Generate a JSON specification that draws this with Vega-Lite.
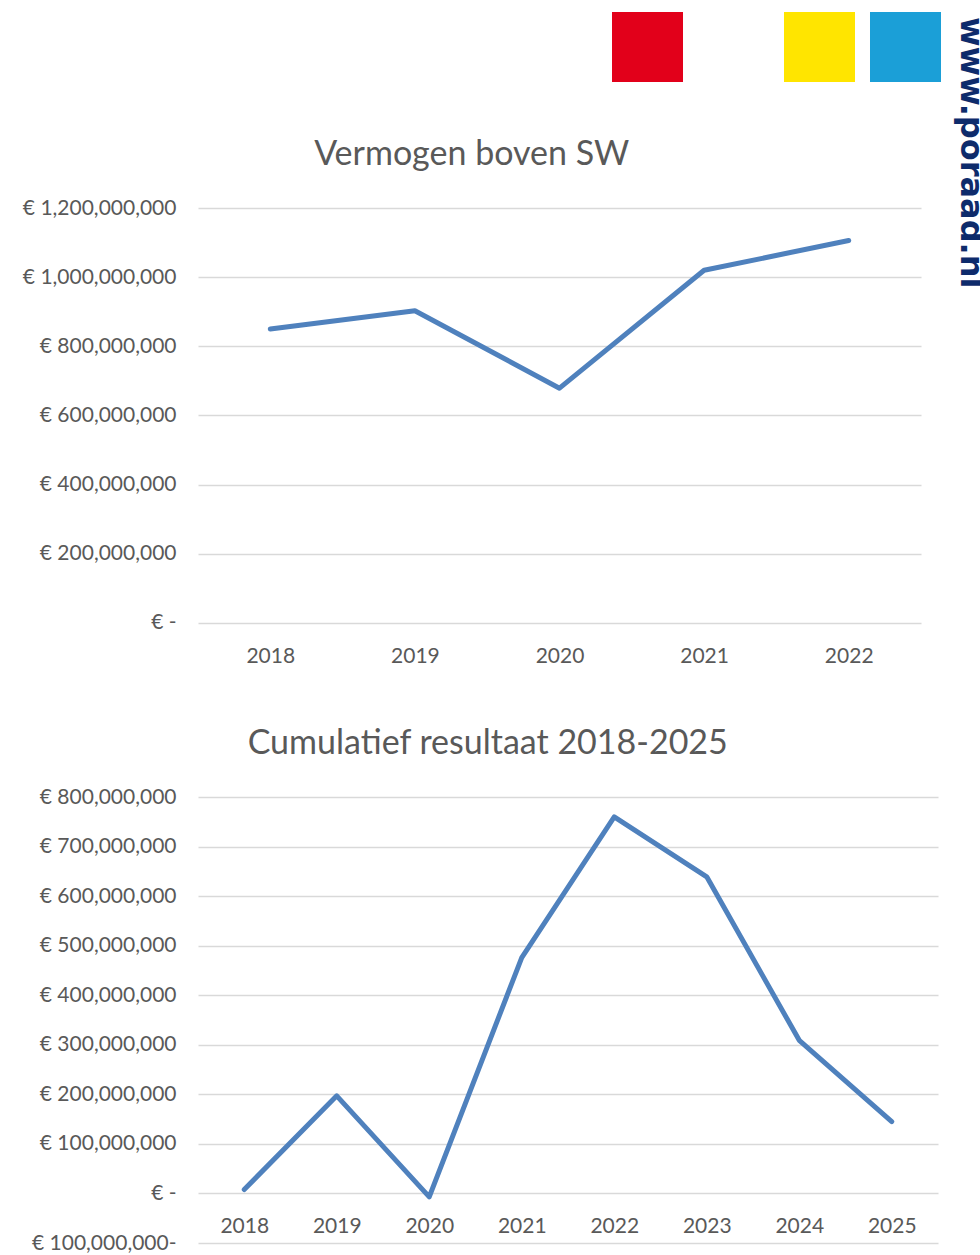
{
  "$schema": "https://vega.github.io/schema/vega-lite/v6.json",
  "background": "white",
  "padding": {"left": 22, "right": -8, "top": 12, "bottom": 0},
  "bounds": "flush",
  "spacing": 126,
  "config": {
    "view": {"stroke": null},
    "font": "Lato",
    "axis": {
      "labelFont": "Lato",
      "labelFontSize": 21,
      "labelColor": "#595959",
      "domain": false,
      "ticks": false,
      "tickSize": 0,
      "gridColor": "#D9D9D9",
      "gridWidth": 1.5,
      "title": null
    },
    "title": {
      "font": "Lato",
      "fontSize": 34,
      "fontWeight": "normal",
      "color": "#595959",
      "anchor": "middle",
      "frame": "bounds",
      "baseline": "alphabetic"
    }
  },
  "vconcat": [
    {
      "width": 743,
      "height": 70,
      "layer": [
        {
          "data": {"values": [{"kleur": "rood"}, {"kleur": "wit"}, {"kleur": "geel"}, {"kleur": "blauw"}]},
          "mark": {"type": "rect"},
          "encoding": {
            "x": {
              "field": "kleur",
              "type": "nominal",
              "sort": null,
              "scale": {"domain": ["leeg1", "leeg2", "leeg3", "rood", "wit", "geel", "blauw"], "paddingInner": 0.1744, "paddingOuter": 0.907, "align": 1},
              "axis": null
            },
            "color": {
              "field": "kleur",
              "type": "nominal",
              "scale": {"domain": ["rood", "wit", "geel", "blauw"], "range": ["#E2001A", "#FFFFFF", "#FFE500", "#1B9FD7"]},
              "legend": null
            }
          }
        },
        {
          "data": {"values": [{"kleur": "blauw", "tekst": "www.poraad.nl"}]},
          "mark": {
            "type": "text",
            "angle": 90,
            "align": "left",
            "baseline": "alphabetic",
            "font": "DejaVu Sans",
            "fontWeight": "bold",
            "fontSize": 32,
            "color": "#0E2B6B",
            "dx": -30,
            "dy": -20
          },
          "encoding": {
            "x": {"field": "kleur", "type": "nominal", "bandPosition": 1},
            "text": {"field": "tekst"}
          }
        }
      ]
    },
    {
      "width": 723,
      "height": 463,
      "title": {"text": "Vermogen boven SW", "offset": 25},
      "data": {
        "values": [
          {"jaar": "2018", "vermogen": 850000000},
          {"jaar": "2019", "vermogen": 903000000},
          {"jaar": "2020", "vermogen": 679000000},
          {"jaar": "2021", "vermogen": 1020000000},
          {"jaar": "2022", "vermogen": 1106000000}
        ]
      },
      "mark": {"type": "line", "color": "#4F81BD", "strokeWidth": 5, "strokeCap": "round", "strokeJoin": "round"},
      "encoding": {
        "x": {
          "field": "jaar",
          "type": "ordinal",
          "scale": {"type": "point", "padding": 0.5},
          "axis": {"labelAngle": 0, "grid": false, "offset": -26, "labelPadding": 0, "labelBaseline": "top"}
        },
        "y": {
          "field": "vermogen",
          "type": "quantitative",
          "scale": {"domain": [-138800000, 1200000000], "nice": false, "zero": false},
          "axis": {
            "values": [0, 200000000, 400000000, 600000000, 800000000, 1000000000, 1200000000],
            "grid": true,
            "labelPadding": 22,
            "labelBaseline": "middle",
            "labelExpr": "datum.value == 0 ? '€ -\u00a0\u00a0\u00a0\u00a0' : (datum.value < 0 ? '€ ' + format(-datum.value, ',') + '-' : '€ ' + format(datum.value, ',') + '\u00a0')"
          }
        }
      }
    },
    {
      "width": 740,
      "height": 446,
      "title": {"text": "Cumulatief resultaat 2018-2025", "offset": 25, "dx": 3},
      "data": {
        "values": [
          {"jaar": "2018", "resultaat": 8000000},
          {"jaar": "2019", "resultaat": 197000000},
          {"jaar": "2020", "resultaat": -7000000},
          {"jaar": "2021", "resultaat": 476000000},
          {"jaar": "2022", "resultaat": 760000000},
          {"jaar": "2023", "resultaat": 639000000},
          {"jaar": "2024", "resultaat": 309000000},
          {"jaar": "2025", "resultaat": 145000000}
        ]
      },
      "mark": {"type": "line", "color": "#4F81BD", "strokeWidth": 5, "strokeCap": "round", "strokeJoin": "round"},
      "encoding": {
        "x": {
          "field": "jaar",
          "type": "ordinal",
          "scale": {"type": "point", "padding": 0.5},
          "axis": {"labelAngle": 0, "grid": false, "offset": -28, "labelPadding": 0, "labelBaseline": "top"}
        },
        "y": {
          "field": "resultaat",
          "type": "quantitative",
          "scale": {"domain": [-100000000, 800000000], "nice": false, "zero": false},
          "axis": {
            "values": [-100000000, 0, 100000000, 200000000, 300000000, 400000000, 500000000, 600000000, 700000000, 800000000],
            "grid": true,
            "labelPadding": 22,
            "labelBaseline": "middle",
            "labelExpr": "datum.value == 0 ? '€ -\u00a0\u00a0\u00a0\u00a0' : (datum.value < 0 ? '€ ' + format(-datum.value, ',') + '-' : '€ ' + format(datum.value, ',') + '\u00a0')"
          }
        }
      }
    }
  ]
}
